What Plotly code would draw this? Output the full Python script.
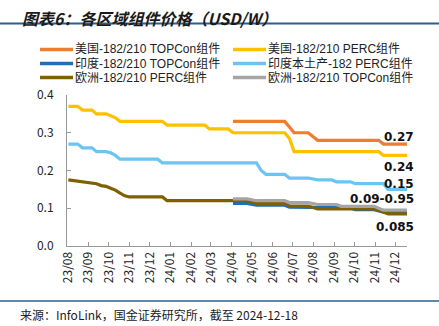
import plotly.graph_objects as go

# Module prices by region, USD/W (weekly quotes, key change points)
us_topcon_dates = ["2024-04-03", "2024-06-19", "2024-06-26", "2024-07-03", "2024-07-24",
                   "2024-07-31", "2024-08-07", "2024-11-06", "2024-11-13", "2024-12-18"]
us_topcon_vals = [0.33, 0.33, 0.315, 0.30, 0.30, 0.29, 0.28, 0.28, 0.27, 0.27]

us_perc_dates = ["2023-08-02", "2023-08-16", "2023-08-23", "2023-09-06", "2023-09-13",
                 "2023-09-27", "2023-10-04", "2023-10-11", "2023-10-18", "2023-12-20",
                 "2023-12-27", "2024-02-21", "2024-02-28", "2024-03-27", "2024-04-03",
                 "2024-06-19", "2024-06-26", "2024-07-03", "2024-11-06", "2024-11-13",
                 "2024-12-18"]
us_perc_vals = [0.37, 0.37, 0.36, 0.36, 0.35, 0.35, 0.345, 0.34, 0.33, 0.33,
                0.32, 0.32, 0.31, 0.31, 0.30, 0.30, 0.285, 0.25, 0.25, 0.24, 0.24]

in_topcon_dates = ["2024-04-03", "2024-04-24", "2024-05-08", "2024-06-19", "2024-06-26",
                   "2024-07-24", "2024-08-07", "2024-09-25", "2024-10-02", "2024-10-30",
                   "2024-11-13", "2024-12-18"]
in_topcon_vals = [0.113, 0.113, 0.108, 0.108, 0.103, 0.103, 0.101, 0.101, 0.096, 0.096,
                  0.09, 0.09]

in_perc_dates = ["2023-08-02", "2023-08-16", "2023-08-23", "2023-09-06", "2023-09-13",
                 "2023-09-27", "2023-10-04", "2023-10-11", "2023-10-18", "2023-12-13",
                 "2023-12-20", "2024-05-08", "2024-05-15", "2024-05-22", "2024-06-19",
                 "2024-06-26", "2024-07-24", "2024-07-31", "2024-08-07", "2024-08-28",
                 "2024-09-04", "2024-09-25", "2024-10-02", "2024-11-13", "2024-11-20",
                 "2024-12-18"]
in_perc_vals = [0.27, 0.27, 0.26, 0.26, 0.25, 0.25, 0.247, 0.24, 0.23, 0.23,
                0.22, 0.22, 0.20, 0.19, 0.19, 0.18, 0.18, 0.177, 0.175, 0.175,
                0.17, 0.17, 0.165, 0.165, 0.15, 0.15]

eu_perc_dates = ["2023-08-02", "2023-08-16", "2023-08-23", "2023-09-06", "2023-09-13",
                 "2023-09-20", "2023-09-27", "2023-10-04", "2023-10-11", "2023-10-18",
                 "2023-10-25", "2023-11-01", "2023-12-20", "2023-12-27", "2024-04-24",
                 "2024-05-08", "2024-06-19", "2024-06-26", "2024-07-24", "2024-08-07",
                 "2024-10-30", "2024-11-06", "2024-11-13", "2024-11-20", "2024-12-18"]
eu_perc_vals = [0.175, 0.172, 0.17, 0.166, 0.165, 0.16, 0.158, 0.153, 0.148, 0.14,
                0.133, 0.13, 0.13, 0.12, 0.12, 0.113, 0.113, 0.106, 0.106, 0.098,
                0.098, 0.095, 0.09, 0.085, 0.085]

eu_topcon_dates = ["2024-04-03", "2024-04-24", "2024-05-08", "2024-06-19", "2024-06-26",
                   "2024-07-24", "2024-08-07", "2024-09-04", "2024-09-11", "2024-10-30",
                   "2024-11-06", "2024-11-13", "2024-12-18"]
eu_topcon_vals = [0.125, 0.125, 0.12, 0.12, 0.115, 0.115, 0.11, 0.11, 0.105, 0.105,
                  0.10, 0.095, 0.095]

# End-of-period value labels
end_labels = ["0.27", "0.24", "0.15", "0.09-0.95", "0.085"]

# (name, dates, values, colour, legend column, legend row)
series = [
    ("美国-182/210 TOPCon组件", us_topcon_dates, us_topcon_vals, "#ED7D31", 0, 0),
    ("美国-182/210 PERC组件", us_perc_dates, us_perc_vals, "#FFC000", 1, 0),
    ("印度-182/210 TOPCon组件", in_topcon_dates, in_topcon_vals, "#1F6FB8", 0, 1),
    ("印度本土产-182 PERC组件", in_perc_dates, in_perc_vals, "#6CC4F2", 1, 1),
    ("欧洲-182/210 PERC组件", eu_perc_dates, eu_perc_vals, "#7F6000", 0, 2),
    ("欧洲-182/210 TOPCon组件", eu_topcon_dates, eu_topcon_vals, "#A5A5A5", 1, 2),
]

FONT = "Noto Sans CJK SC"
LEGEND_FONT = "Liberation Sans, Noto Sans CJK SC"

# Plot area spans 67..407 px horizontally and 95..246 px vertically
L, R, T, B = 67, 407, 95, 246
W, H = 439, 326


def px_x(px):
    return (px - L) / (R - L)


def px_y(py):
    return (B - py) / (B - T)


fig = go.Figure()
for name, xs, ys, color, col, row in series:
    fig.add_trace(go.Scatter(
        x=xs, y=ys, name=name, mode="lines", showlegend=False,
        line=dict(color=color, width=3.2),
    ))

fig.update_layout(
    width=W, height=H,
    margin=dict(l=L, r=W - R, t=T, b=H - B),
    paper_bgcolor="white", plot_bgcolor="white",
    font=dict(family=FONT, size=12, color="#222"),
    xaxis=dict(
        type="date",
        range=["2023-07-31", "2024-12-18"],
        tick0="2023-08-01", dtick="M1", tickformat="%y/%m",
        tickangle=-90,
        ticks="inside", ticklen=4, tickcolor="#999",
        showline=True, linecolor="#999", linewidth=1,
        showgrid=False, zeroline=False,
        tickfont=dict(family=FONT, size=12, color="#222"),
    ),
    yaxis=dict(
        range=[0, 0.4], dtick=0.1, tickformat=".1f",
        ticks="inside", ticklen=4, tickcolor="#999",
        showline=True, linecolor="#999", linewidth=1,
        showgrid=False, zeroline=False,
        tickfont=dict(family=FONT, size=12, color="#222"),
        ticklabelstandoff=10,
    ),
)

# Compact two-column legend: swatch line + label
col_x = [40, 233]
row_y = [49.5, 63.5, 77.5]
for name, xs, ys, color, col, row in series:
    x0 = col_x[col]
    yy = px_y(row_y[row])
    fig.add_shape(type="line", xref="paper", yref="paper",
                  x0=px_x(x0), x1=px_x(x0 + 33), y0=yy, y1=yy,
                  line=dict(color=color, width=3.5))
    fig.add_annotation(
        x=px_x(x0 + 34), y=yy, xref="paper", yref="paper",
        xanchor="left", yanchor="middle", showarrow=False, borderpad=0,
        text=name, font=dict(family=LEGEND_FONT, size=12, color="#222"),
    )

# Value labels at the right end of the lines
label_y_px = [137, 167, 184, 199, 227]
for txt, ypx in zip(end_labels, label_y_px):
    fig.add_annotation(
        x=px_x(416), y=px_y(ypx), xref="paper", yref="paper",
        xanchor="right", yanchor="middle", showarrow=False,
        text=f"<b>{txt}</b>",
        font=dict(family="DejaVu Sans", size=12, color="#111"),
    )

# Title and header rule
fig.add_annotation(
    x=px_x(20), y=px_y(18), xref="paper", yref="paper",
    xanchor="left", yanchor="middle", showarrow=False,
    text="<b><i>图表6：各区域组件价格（USD/W）</i></b>",
    font=dict(family=FONT, size=16, color="#1a1a1a"),
)
fig.add_shape(type="line", xref="paper", yref="paper",
              x0=px_x(0), x1=px_x(W), y0=px_y(23.5), y1=px_y(23.5),
              line=dict(color="#2B5F8C", width=2))

# Footer rule and source note
fig.add_shape(type="line", xref="paper", yref="paper",
              x0=px_x(0), x1=px_x(W), y0=px_y(301), y1=px_y(301),
              line=dict(color="#2B5F8C", width=1.5))
fig.add_annotation(
    x=px_x(18), y=px_y(314), xref="paper", yref="paper",
    xanchor="left", yanchor="middle", showarrow=False,
    text="来源：InfoLink，国金证券研究所，截至 2024-12-18",
    font=dict(family=FONT, size=12, color="#222"),
)

fig.write_html("out.html")
